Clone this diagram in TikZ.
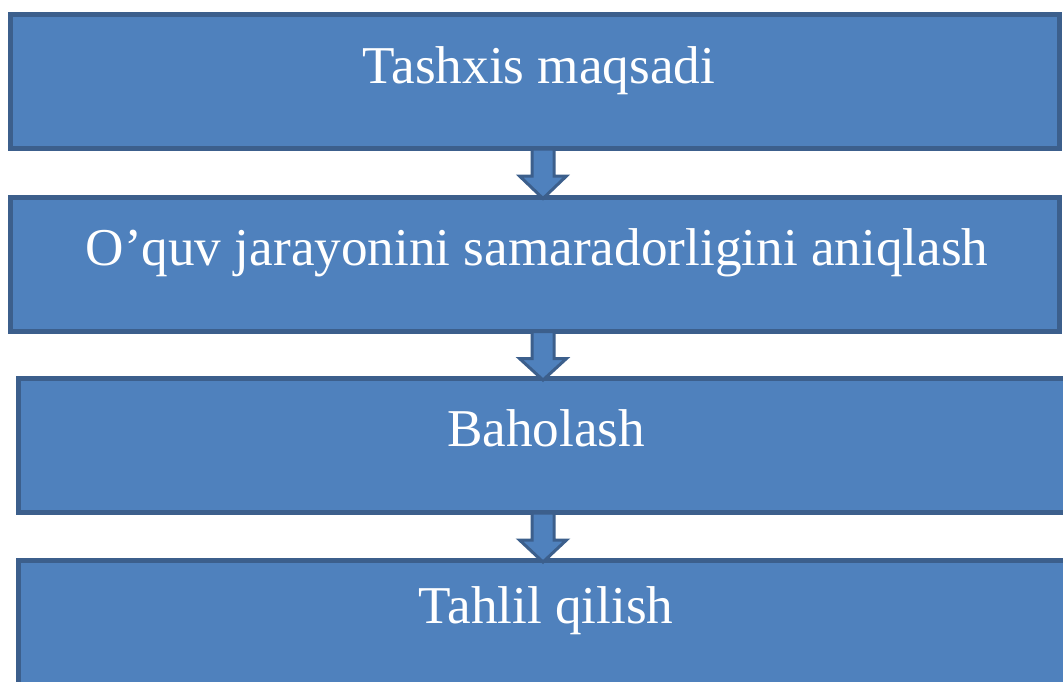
\documentclass[tikz,border=0pt]{standalone}
\usepackage{fontspec}
\setmainfont{Liberation Serif}
\usetikzlibrary{calc}

\definecolor{boxfill}{RGB}{79,129,189}
\definecolor{boxline}{RGB}{60,95,140}

\tikzset{
  stage/.style={draw=boxline, fill=boxfill, line width=5pt, inner sep=0pt,
    minimum width=1049pt, minimum height=134pt},
  stagetext/.style={text=white, anchor=base, inner sep=0pt,
    font=\fontsize{53.2}{60}\selectfont},
  blockarr/.style={draw=boxline, fill=boxfill, line width=3pt, line join=miter}
}

% block arrow from the bottom of one box to the top of the next
\newcommand{\flowarrow}[2]{%
\draw[blockarr] let \p1=(#1), \p2=(#2) in
 (\x1-11pt,\y1+2pt)--(\x1+11pt,\y1+2pt)--(\x1+11pt,\y1-25pt)
 --(\x1+23.5pt,\y1-25pt)--(\x1,\y2-4pt)--(\x1-23.5pt,\y1-25pt)
 --(\x1-11pt,\y1-25pt)--cycle;}

\begin{document}
\begin{tikzpicture}[x=1pt,y=-1pt]

\useasboundingbox (0,0) rectangle (1063,681);
%\draw[xstep=100,ystep=-100,color=gray!80] (0,0) grid (1063,681);

\node[stage] (b1) at (535,81.5) {};
\node[stage] (b2) at (535,264) {};
\node[stage, minimum width=1052pt] (b3) at (544,445.5) {};
\node[stage, minimum width=1052pt] (b4) at (544,627.5) {};

\node[stagetext] (t1) at (539,83) {Tashxis maqsadi};
\node[stagetext] (t2) at (537,265) {O’quv jarayonini samaradorligini aniqlash};
\node[stagetext] (t3) at (546,446) {Baholash};
\node[stagetext] (t4) at (546,623) {Tahlil qilish};

\flowarrow{543,0 |- b1.south}{543,0 |- b2.north}
\flowarrow{543,0 |- b2.south}{543,0 |- b3.north}
\flowarrow{543,0 |- b3.south}{543,0 |- b4.north}

\end{tikzpicture}
\end{document}
